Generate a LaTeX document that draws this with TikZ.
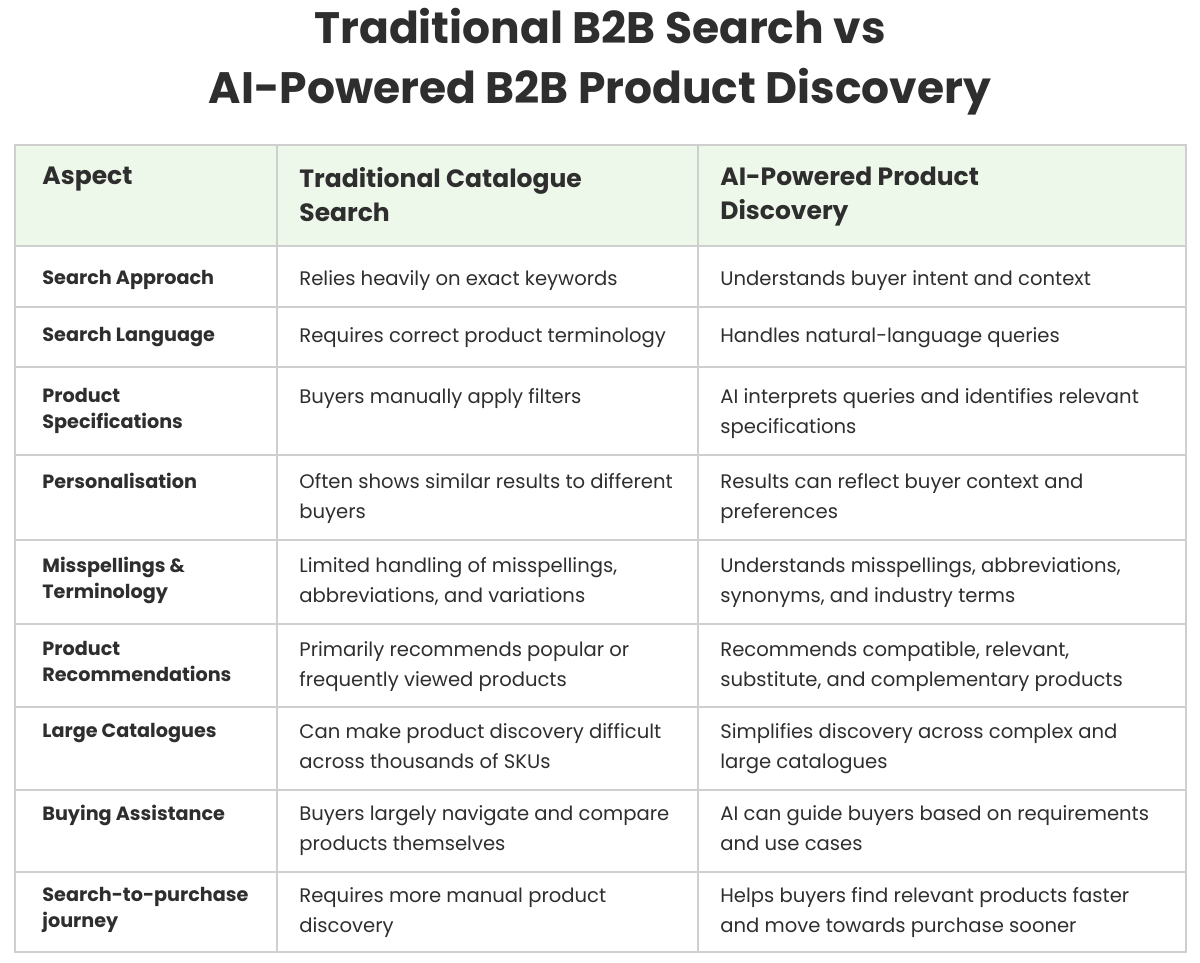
\documentclass[tikz,border=0pt]{standalone}
\usepackage{fontspec}
\setmainfont{Poppins}
\definecolor{headbg}{HTML}{EEF8EA}
\definecolor{rule}{HTML}{CFCFCF}
\definecolor{ink}{HTML}{2E2E2E}
\tikzset{
  cell/.style={anchor=north west,inner sep=0pt,align=left,text=ink,font=\fontsize{9.8}{15}\selectfont},
  aspect/.style={cell,font=\fontsize{9.6}{13}\selectfont\bfseries},
  trad/.style={cell},
  ai/.style={cell},
  head/.style={cell,font=\fontsize{12.5}{17}\selectfont\bfseries},
}
\begin{document}
\begin{tikzpicture}[x=0.5pt,y=-0.5pt]
\useasboundingbox (0,0) rectangle (1200,963);
% Title
\node[text=ink,align=center,font=\fontsize{22}{30}\selectfont\bfseries] (title) at (600,62)
  {Traditional B2B Search vs\\AI-Powered B2B Product Discovery};
% Header band
\fill[headbg] (15,145) rectangle (1186,246);
% Grid
\draw[rule,line width=0.6pt] (15,145) rectangle (1186,952);
\foreach \y in {246,307,367,455,540,624,707,790,872}
  \draw[rule,line width=0.6pt] (15,\y) -- (1186,\y);
\foreach \x in {277,698}
  \draw[rule,line width=0.6pt] (\x,145) -- (\x,952);
% Header
\node[head] (hA) at (42,167) {Aspect};
\node[head] (hT) at (299,167) {Traditional Catalogue\\Search};
\node[head] (hI) at (720,167) {AI-Powered Product\\Discovery};
% Rows
\node[aspect] (a1) at (42,270) {Search Approach};
\node[trad] (t1) at (299,270) {Relies heavily on exact keywords};
\node[ai] (i1) at (720,270) {Understands buyer intent and context};
\node[aspect] (a2) at (42,327) {Search Language};
\node[trad] (t2) at (299,327) {Requires correct product terminology};
\node[ai] (i2) at (720,327) {Handles natural-language queries};
\node[aspect] (a3) at (42,388) {Product\\Specifications};
\node[trad] (t3) at (299,388) {Buyers manually apply filters};
\node[ai] (i3) at (720,388) {AI interprets queries and identifies relevant\\specifications};
\node[aspect] (a4) at (42,473) {Personalisation};
\node[trad] (t4) at (299,473) {Often shows similar results to different\\buyers};
\node[ai] (i4) at (720,473) {Results can reflect buyer context and\\preferences};
\node[aspect] (a5) at (42,557) {Misspellings \&\\Terminology};
\node[trad] (t5) at (299,557) {Limited handling of misspellings,\\abbreviations, and variations};
\node[ai] (i5) at (720,557) {Understands misspellings, abbreviations,\\synonyms, and industry terms};
\node[aspect] (a6) at (42,641) {Product\\Recommendations};
\node[trad] (t6) at (299,641) {Primarily recommends popular or\\frequently viewed products};
\node[ai] (i6) at (720,641) {Recommends compatible, relevant,\\substitute, and complementary products};
\node[aspect] (a7) at (42,723) {Large Catalogues};
\node[trad] (t7) at (299,723) {Can make product discovery difficult\\across thousands of SKUs};
\node[ai] (i7) at (720,723) {Simplifies discovery across complex and\\large catalogues};
\node[aspect] (a8) at (42,805) {Buying Assistance};
\node[trad] (t8) at (299,805) {Buyers largely navigate and compare\\products themselves};
\node[ai] (i8) at (720,805) {AI can guide buyers based on requirements\\and use cases};
\node[aspect] (a9) at (42,887) {Search-to-purchase\\journey};
\node[trad] (t9) at (299,887) {Requires more manual product\\discovery};
\node[ai] (i9) at (720,887) {Helps buyers find relevant products faster\\and move towards purchase sooner};
\end{tikzpicture}
\end{document}
